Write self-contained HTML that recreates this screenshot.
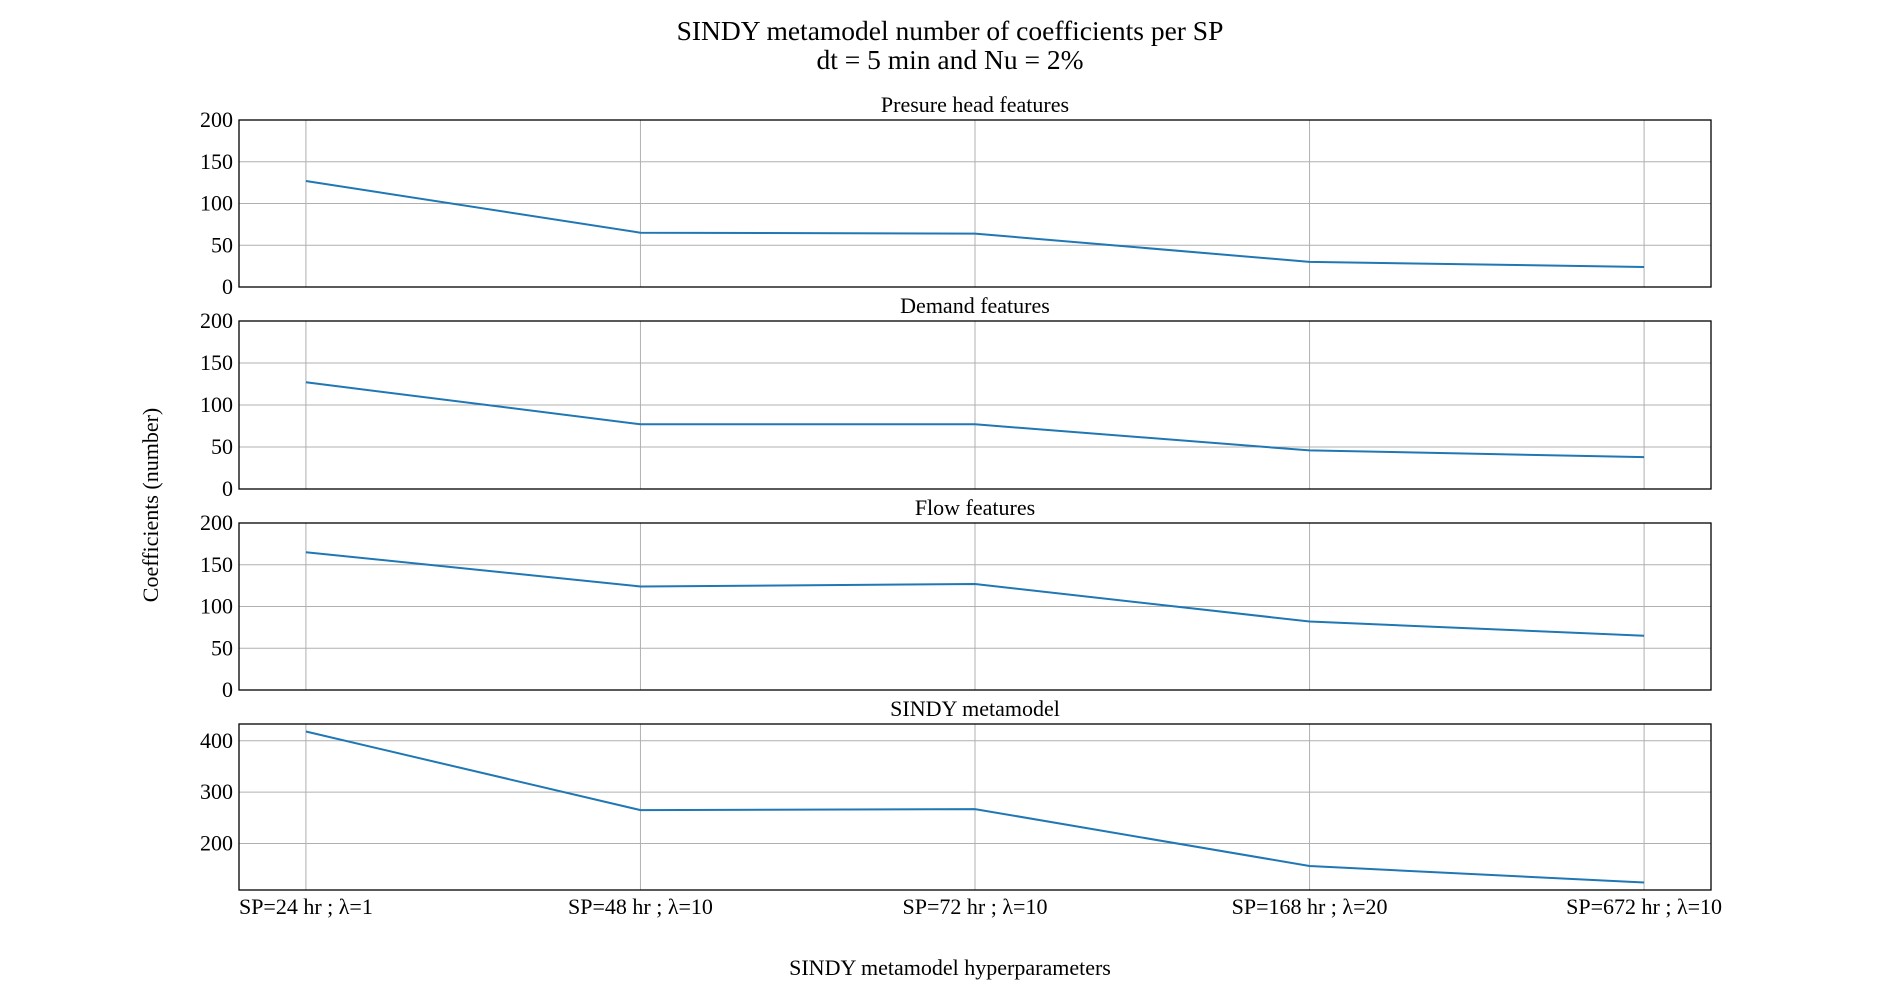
<!DOCTYPE html>
<html><head><meta charset="utf-8"><style>
html,body{margin:0;padding:0;background:#fff;}
svg text{font-family:"Liberation Serif",serif;fill:#000;}
</style></head><body>
<svg id="chart" width="1900" height="1000" viewBox="0 0 1900 1000" xmlns="http://www.w3.org/2000/svg">
<text x="950" y="40" font-size="27.5" text-anchor="middle">SINDY metamodel number of coefficients per SP</text>
<text x="950" y="69" font-size="27.5" text-anchor="middle">dt = 5 min and Nu = 2%</text>
<text x="0" y="0" font-size="22" text-anchor="middle" transform="translate(158,505) rotate(-90)">Coefficients (number)</text>
<text x="950" y="975" font-size="22" text-anchor="middle">SINDY metamodel hyperparameters</text>
<g id="panels"></g>
</svg>
<script>
const categories = ["SP=24 hr ; λ=1","SP=48 hr ; λ=10","SP=72 hr ; λ=10","SP=168 hr ; λ=20","SP=672 hr ; λ=10"];
const pressureValues = [127, 65, 64, 30, 24];
const demandValues = [127, 77, 77, 46, 38];
const flowValues = [165, 124, 127, 82, 65];
const totalValues = [418, 265, 267, 156, 124];
const smallTicks = [0, 50, 100, 150, 200];
const totalTicks = [200, 300, 400];
const panelTitles = ["Presure head features","Demand features","Flow features","SINDY metamodel"];

const NS = "http://www.w3.org/2000/svg";
const g = document.getElementById('panels');
const L = 239, R = 1711;
const panelBoxes = [[120,287],[321,489],[523,690],[724,890]];
function xs(i){ return L + (i + 0.2) / 4.4 * (R - L); }
function mk(tag, attrs){ const e = document.createElementNS(NS, tag); for (const k in attrs) e.setAttribute(k, attrs[k]); return e; }

const series = [pressureValues, demandValues, flowValues, totalValues];
series.forEach((vals, p) => {
  const [T, B] = panelBoxes[p];
  let ymin, ymax, ticks;
  if (p < 3) { ymin = 0; ymax = 200; ticks = smallTicks; }
  else { const lo = Math.min(...vals), hi = Math.max(...vals), m = (hi - lo) * 0.05; ymin = lo - m; ymax = hi + m; ticks = totalTicks; }
  const ys = v => B - (v - ymin) / (ymax - ymin) * (B - T);
  const pg = mk('g', {});
  
  
  g.appendChild(pg);
  ticks.forEach(t => {
    const y = ys(t);
    const gl = mk('line', {x1: L, x2: R, y1: y, y2: y, stroke: '#b0b0b0', 'stroke-width': 1});
    
    
    pg.appendChild(gl);
    const tl = mk('text', {x: L - 6, y: y + 7, 'font-size': 22, 'text-anchor': 'end'});
    
    
    tl.textContent = t;
    pg.appendChild(tl);
  });
  categories.forEach((c, i) => {
    const x = xs(i);
    const gl = mk('line', {x1: x, x2: x, y1: T, y2: B, stroke: '#b0b0b0', 'stroke-width': 1});
    
    
    pg.appendChild(gl);
    if (p === 3) {
      const tl = mk('text', {x: x, y: B + 24, 'font-size': 22, 'text-anchor': 'middle'});
      
      
      tl.textContent = c;
      pg.appendChild(tl);
    }
  });
  const pts = vals.map((v, i) => xs(i).toFixed(1) + ',' + ys(v).toFixed(1)).join(' ');
  const line = mk('polyline', {points: pts, fill: 'none', stroke: '#1f77b4', 'stroke-width': 2});
  
  
  pg.appendChild(line);
  const frame = mk('rect', {x: L, y: T, width: R - L, height: B - T, fill: 'none', stroke: '#000', 'stroke-width': 1.3});
  
  
  pg.appendChild(frame);
  const title = mk('text', {x: (L + R) / 2, y: T - 8, 'font-size': 22, 'text-anchor': 'middle'});
  
  
  title.textContent = panelTitles[p];
  pg.appendChild(title);
});
</script>
</body></html>
